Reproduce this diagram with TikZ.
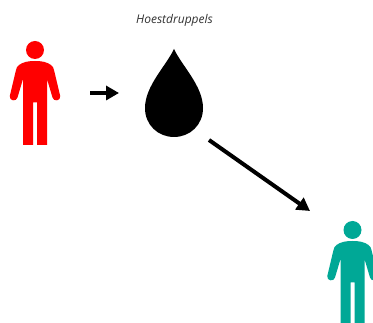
\documentclass[tikz,border=0pt]{standalone}
\usepackage{fontspec}
\setmainfont{Open Sans}
\usepackage{xcolor}
\usetikzlibrary{arrows.meta,positioning}
\definecolor{rood}{RGB}{255,0,0}
\definecolor{groen}{RGB}{0,168,150}
\definecolor{tekst}{RGB}{50,50,50}
\tikzset{
  pijl/.style={-{Triangle[length=13pt,width=14pt]},line width=4pt,black},
  persoon/.pic={
    \fill[pic actions] (0,0) circle (9);
    \fill[pic actions] (0,11) .. controls (-7,11) and (-12,12) .. (-16,15)
      .. controls (-18,16.5) and (-18.5,18) .. (-19,20) -- (-25.2,46)
      .. controls (-26,51) and (-18.5,52) .. (-17.5,47.5) -- (-12,29) -- (-12,95) -- (-2,95) -- (-2,52.5)
      -- (2,52.5) -- (2,95) -- (12,95) -- (12,29) -- (17.5,47.5)
      .. controls (18.5,52) and (26,51) .. (25.2,46) -- (19,20)
      .. controls (18.5,18) and (18,16.5) .. (16,15) .. controls (12,12) and (7,11) .. (0,11) -- cycle;
  }
}
\begin{document}
\begin{tikzpicture}[x=1pt,y=-1pt]
\useasboundingbox (0,0) rectangle (373,323);
\clip (0,0) rectangle (373,323);
\fill[white] (0,0) rectangle (373,323);
\pic[fill=rood] (bron) at (35,50) {persoon};
\pic[fill=groen] (ontvanger) at (352.5,230) {persoon};
\node[font=\itshape\fontsize{12}{14}\selectfont,text=tekst,inner sep=0pt] (label) at (174.5,20) {Hoestdruppels};
\fill[black] (174,49) .. controls (166,66) and (145,86) .. (145,108)
  .. controls (145,125) and (158,137) .. (174,137)
  .. controls (190,137) and (203,125) .. (203,108)
  .. controls (203,86) and (182,66) .. (174,49) -- cycle;
\coordinate (a1) at (90,93);
\coordinate (a2) at (119,93);
\coordinate (b1) at (209,140);
\coordinate (b2) at (310,211);
\draw[pijl] (a1) -- (a2);
\draw[pijl] (b1) -- (b2);
\end{tikzpicture}
\end{document}
